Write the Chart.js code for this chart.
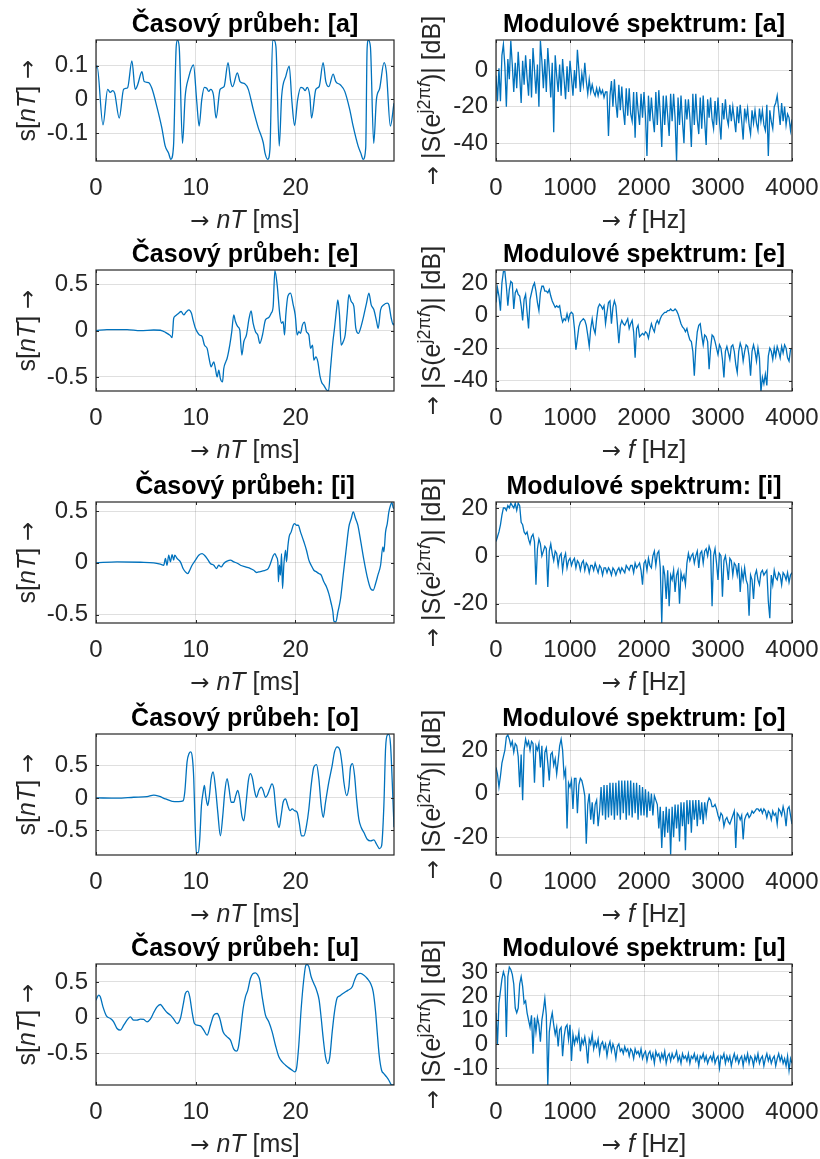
<!DOCTYPE html>
<html>
<head>
<meta charset="utf-8">
<script src="https://cdn.jsdelivr.net/npm/chart.js@4.4.1/dist/chart.umd.min.js"></script>
<style>
  body { margin: 0; background: #fff; overflow: hidden; }
  #fig { position: relative; width: 820px; height: 1159px; }
  #fig canvas { position: absolute; }
</style>
</head>
<body>
<div id="fig"></div>
<script>
const FONT = '"Liberation Sans", Arial, Helvetica, sans-serif';
const ARROW_FONT = '"DejaVu Sans", sans-serif';
const INK = '#262626';
const LINE = '#0072bd';
const GRID = 'rgba(38,38,38,0.15)';

const msTicks = [0, 10, 20];
const hzTicks = [0, 1000, 2000, 3000, 4000];
const msMax = 29.875;
const hzMax = 4000;

// time waveforms: [t in ms, s[nT]]
const waveA = [[0,0.092],[0.1,0.1],[0.7,-0.075],[1.17,0.03],[1.43,0.021],[1.67,0.026],[1.87,0.019],[2.33,-0.055],[2.77,0.03],[3.17,0.035],[3.6,0.114],[3.93,0.03],[4.17,0.043],[4.6,0.082],[4.83,0.053],[5.27,0.05],[5.6,0.033],[6.1,-0.021],[6.6,-0.084],[6.94,-0.138],[7.27,-0.158],[7.5,-0.177],[7.77,-0.138],[8.04,0.156],[8.17,0.175],[8.34,0.156],[8.67,-0.13],[8.94,0.009],[9.27,0.063],[9.77,0.102],[10.1,-0.006],[10.34,-0.079],[10.6,-0.001],[10.87,0.036],[11.1,0.033],[11.3,0.024],[11.5,0.03],[11.77,0.014],[12.04,-0.055],[12.44,0.03],[12.84,0.038],[13.24,0.109],[13.5,0.053],[13.7,0.038],[14.17,0.079],[14.44,0.053],[14.94,0.046],[15.27,0.03],[15.77,-0.03],[16.27,-0.084],[16.77,-0.128],[16.94,-0.158],[17.21,-0.177],[17.44,-0.146],[17.71,0.175],[17.84,0.175],[18.04,0.156],[18.37,-0.138],[18.61,0.009],[19.04,0.07],[19.37,0.099],[19.64,-0.006],[19.91,-0.077],[20.21,-0.001],[20.54,0.036],[20.77,0.033],[20.97,0.026],[21.17,0.036],[21.44,0.009],[21.61,-0.055],[22.04,0.03],[22.37,0.038],[22.77,0.109],[23.04,0.053],[23.34,0.038],[23.77,0.075],[24.04,0.053],[24.51,0.043],[24.94,0.024],[25.44,-0.03],[25.78,-0.079],[26.28,-0.138],[26.54,-0.158],[26.78,-0.177],[27.04,-0.143],[27.18,0.151],[27.31,0.175],[27.51,0.156],[27.84,-0.13],[28.11,-0.001],[28.44,0.033],[28.88,0.109],[29.11,0.082],[29.51,-0.079],[29.875,-0.011]];

const waveE = [[0,0],[1.1,0.011],[3.11,0.011],[4.45,0],[5.79,0.007],[6.45,0.004],[6.96,-0.018],[7.46,-0.054],[7.63,-0.076],[7.79,0.134],[7.96,0.159],[8.29,0.188],[8.53,0.207],[8.8,0.17],[9,0.196],[9.3,0.225],[9.57,0.188],[9.73,0.116],[9.97,0.025],[10.13,-0.011],[10.37,-0.047],[10.64,-0.065],[10.87,-0.156],[11.14,-0.192],[11.34,-0.301],[11.54,-0.391],[11.81,-0.337],[11.97,-0.409],[12.14,-0.5],[12.31,-0.428],[12.47,-0.518],[12.68,-0.554],[12.81,-0.409],[13.01,-0.337],[13.14,-0.301],[13.41,-0.156],[13.61,-0.011],[13.81,0.17],[13.98,0.098],[14.21,0.043],[14.41,0.007],[14.62,-0.264],[14.82,-0.12],[15.08,-0.047],[15.35,0.134],[15.55,0.214],[15.75,0.08],[15.99,-0.011],[16.22,-0.047],[16.42,-0.138],[16.69,-0.047],[16.99,0.116],[17.32,0.141],[17.56,0.188],[17.76,0.261],[17.93,0.649],[18.16,0.496],[18.43,0.17],[18.6,0.08],[18.76,0.098],[18.9,-0.047],[19.03,0.17],[19.23,0.37],[19.5,0.406],[19.77,0.279],[19.97,0.17],[20.17,-0.047],[20.33,-0.011],[20.5,-0.029],[20.7,0.062],[20.9,0.091],[21.1,-0.011],[21.34,-0.047],[21.51,-0.192],[21.71,-0.156],[21.84,-0.319],[22.04,-0.283],[22.24,-0.337],[22.44,-0.482],[22.61,-0.554],[22.84,-0.591],[23.11,-0.64],[23.31,-0.65],[23.51,-0.409],[23.75,-0.12],[23.91,0.025],[24.11,0.225],[24.25,0.333],[24.41,0.17],[24.58,-0.156],[24.78,-0.12],[24.98,-0.047],[25.18,0.188],[25.35,0.388],[25.59,0.315],[25.85,0.261],[26.05,0.025],[26.32,-0.029],[26.52,0.025],[26.86,0.17],[27.12,0.297],[27.36,0.406],[27.59,0.279],[27.86,0.225],[28.13,0.098],[28.29,0.025],[28.53,0.225],[28.86,0.279],[29.2,0.297],[29.36,0.279],[29.6,0.134],[29.8,0.062],[29.875,0.08]];

const waveI = [[0,0],[2.11,0.01],[4.45,0.006],[5.79,0],[6.45,-0.013],[6.79,-0.023],[6.96,0.042],[7.12,-0.023],[7.29,0.074],[7.46,0.01],[7.63,0.08],[7.79,0.026],[7.89,0.074],[8.13,0.042],[8.46,0.01],[8.73,-0.055],[8.96,-0.087],[9.2,-0.103],[9.4,-0.071],[9.63,-0.023],[9.97,0.026],[10.3,0.074],[10.64,0.09],[10.87,0.074],[11.14,0.042],[11.47,-0.006],[11.81,-0.023],[12.07,-0.055],[12.31,-0.023],[12.54,-0.039],[12.81,-0.006],[13.14,0.016],[13.48,0.026],[13.81,0.01],[14.21,-0.006],[14.48,-0.023],[14.98,-0.039],[15.49,-0.055],[15.82,-0.071],[16.09,-0.093],[16.32,-0.087],[16.66,-0.08],[16.99,-0.071],[17.26,-0.055],[17.49,-0.006],[17.76,0.068],[17.93,0.09],[18.09,0.058],[18.23,0.01],[18.29,-0.183],[18.39,-0.023],[18.49,-0.119],[18.6,0.09],[18.7,-0.248],[18.83,-0.023],[19,0.122],[19.1,0.01],[19.23,0.154],[19.36,0.251],[19.57,0.299],[19.77,0.363],[19.9,0.379],[20.1,0.363],[20.27,0.363],[20.5,0.299],[20.84,0.203],[21.1,0.122],[21.34,0.026],[21.57,-0.023],[21.84,-0.071],[22.11,-0.087],[22.34,-0.103],[22.58,-0.119],[22.84,-0.183],[23.11,-0.232],[23.34,-0.296],[23.58,-0.392],[23.75,-0.473],[23.85,-0.563],[24.05,-0.569],[24.25,-0.473],[24.52,-0.344],[24.78,-0.119],[25.05,0.106],[25.35,0.347],[25.59,0.428],[25.79,0.492],[26.02,0.428],[26.25,0.363],[26.52,0.219],[26.86,0.026],[27.19,-0.135],[27.53,-0.248],[27.79,-0.264],[28.03,-0.199],[28.26,-0.119],[28.53,-0.023],[28.76,0.154],[28.86,0.106],[29.03,0.299],[29.2,0.379],[29.36,0.492],[29.53,0.556],[29.66,0.582],[29.8,0.531],[29.875,0.524]];

const waveO = [[0,0],[2.11,-0.005],[3.78,0.01],[5.12,0.021],[5.79,0.041],[6.29,0.026],[6.96,-0.015],[7.63,-0.052],[8.29,-0.057],[8.73,-0.046],[8.9,0.088],[9.13,0.552],[9.33,0.68],[9.5,0.706],[9.67,0.603],[9.8,0.294],[9.93,-0.376],[10.07,-0.84],[10.27,-0.84],[10.4,-0.634],[10.57,-0.119],[10.74,0.088],[10.87,0.191],[11,0.036],[11.2,-0.119],[11.37,0.036],[11.54,0.294],[11.74,0.397],[11.97,0.165],[12.21,-0.222],[12.47,-0.582],[12.71,-0.273],[12.91,0.088],[13.14,0.294],[13.34,0.139],[13.55,-0.067],[13.81,-0.067],[14.01,0.036],[14.21,0.113],[14.41,-0.015],[14.62,-0.273],[14.82,-0.351],[15.05,-0.067],[15.28,0.268],[15.48,0.371],[15.69,0.294],[15.89,0.113],[16.09,0.01],[16.32,0.113],[16.56,0.165],[16.76,0.113],[16.99,0.01],[17.16,0.036],[17.42,0.139],[17.63,0.216],[17.83,0.139],[17.99,-0.119],[18.16,-0.351],[18.36,-0.454],[18.56,-0.273],[18.76,-0.067],[19,-0.015],[19.23,-0.119],[19.43,-0.196],[19.67,-0.17],[19.9,-0.196],[20.17,-0.222],[20.37,-0.376],[20.6,-0.582],[20.84,-0.582],[21.1,-0.428],[21.34,-0.17],[21.57,0.191],[21.84,0.474],[22.11,0.51],[22.34,0.294],[22.58,-0.119],[22.78,-0.299],[23.01,-0.067],[23.34,0.242],[23.68,0.5],[23.91,0.706],[24.18,0.784],[24.45,0.732],[24.68,0.5],[24.85,0.242],[25.12,0.036],[25.35,0.165],[25.52,0.474],[25.72,0.526],[25.92,0.345],[26.12,-0.015],[26.35,-0.325],[26.59,-0.454],[26.86,-0.531],[27.19,-0.634],[27.53,-0.66],[27.86,-0.644],[28.13,-0.711],[28.43,-0.778],[28.63,-0.737],[28.86,-0.119],[29.03,0.758],[29.2,0.964],[29.36,0.974],[29.53,0.809],[29.7,0.242],[29.875,-0.45]];

const waveU = [[0,0.244],[0.27,0.315],[0.43,0.291],[0.7,0.15],[1.04,0.023],[1.44,-0.014],[1.77,-0.061],[2.11,-0.155],[2.44,-0.178],[2.78,-0.108],[3.11,-0.038],[3.44,0.009],[3.78,-0.038],[4.11,-0.038],[4.45,-0.023],[4.78,-0.028],[5.12,-0.061],[5.45,-0.023],[5.79,0.07],[6.12,0.15],[6.45,0.183],[6.79,0.127],[7.12,0.07],[7.46,0.033],[7.79,-0.023],[8.13,-0.085],[8.46,-0.014],[8.73,0.174],[8.96,0.338],[9.2,0.371],[9.4,0.291],[9.63,0.08],[9.87,-0.085],[10.13,-0.108],[10.47,-0.117],[10.8,-0.178],[11.14,-0.249],[11.47,-0.108],[11.81,0.033],[12.14,0.056],[12.41,-0.014],[12.74,-0.202],[13.14,-0.272],[13.48,-0.319],[13.81,-0.446],[14.08,-0.474],[14.28,-0.413],[14.48,-0.202],[14.75,0.127],[14.98,0.291],[15.22,0.385],[15.48,0.549],[15.75,0.62],[15.99,0.629],[16.22,0.596],[16.42,0.526],[16.66,0.291],[16.99,0.033],[17.32,-0.061],[17.66,-0.202],[17.99,-0.39],[18.33,-0.554],[18.66,-0.624],[19,-0.671],[19.33,-0.709],[19.67,-0.742],[19.9,-0.765],[20.1,-0.718],[20.33,-0.39],[20.57,0.127],[20.84,0.549],[21.04,0.737],[21.17,0.746],[21.34,0.714],[21.57,0.573],[21.84,0.479],[22.11,0.385],[22.37,0.244],[22.58,-0.014],[22.78,-0.296],[23.01,-0.554],[23.24,-0.648],[23.44,-0.554],[23.68,-0.202],[23.91,0.08],[24.18,0.277],[24.45,0.305],[24.72,0.333],[25.02,0.362],[25.28,0.385],[25.69,0.432],[25.92,0.526],[26.19,0.606],[26.52,0.62],[26.86,0.596],[27.19,0.549],[27.53,0.479],[27.79,0.362],[28.03,0.08],[28.19,-0.202],[28.39,-0.531],[28.63,-0.742],[28.86,-0.789],[29.13,-0.836],[29.36,-0.883],[29.6,-0.944],[29.875,-0.95]];

// magnitude spectra in dB, 0..4000 Hz in 20 Hz steps
const specA = [
  -3,-17,1,-17,8, 14,2,-20,6,-5, 16,3,-12,4,-10, 10,-3,-18,5,-8, 8,-4,-14,6,-15,
  12,0,-13,3,-20, 16,5,-10,6,-12, 12,0,-15,4,-34, 8,-3,-12,3,-14, 6,-5,-16,2,-12,
  5,-4,-14,0,-10, 11,0,-12,-2,-8, 4,-6,-13,-5,-12, -8,-12,-14,-10,-14, -10,-13,-11,-15,-12,
  -12,-36,-14,-6,-20, -5,-18,-26,-8,-22, -9,-22,-30,-10,-25, -10,-24,-28,-12,-37, -12,-22,-30,-13,-26,
  -12,-25,-47,-14,-28, -15,-26,-34,-12,-30, -11,-24,-42,-14,-30, -14,-25,-36,-13,-28, -13,-26,-50,-15,-30,
  -14,-28,-40,-16,-27, -16,-26,-42,-13,-30, -13,-27,-35,-15,-32, -14,-28,-41,-16,-26, -15,-27,-32,-17,-30,
  -15,-28,-38,-18,-27, -16,-26,-30,-19,-28, -20,-27,-34,-20,-29, -19,-28,-38,-21,-27, -21,-30,-35,-22,-29,
  -22,-29,-33,-21,-28, -22,-30,-33,-19,-47, -22,-28,-32,-20,-18, -14,-22,-30,-18,-28, -20,-30,-24,-26,-33,
  -27
];
const specE = [
  8,17,12,3,20,27,27,18,6,16,21,20,4,14,16,13,12,6,-3,10,
  13,2,-8,10,14,18,20,15,8,3,14,18,18,15,15,14,16,12,9,7,
  5,6,5,6,0,-4,-2,-3,1,-3,1,2,1,-8,-21,-14,-7,-4,-3,-2,
  -3,-6,-12,-19,-8,-2,-8,-11,-2,5,7,6,4,6,-5,2,8,9,-5,5,
  9,6,-5,-17,-6,-3,-5,-6,-4,-2,-8,-5,-3,-10,-26,-8,-6,-13,-12,-11,
  -12,-10,-11,-14,-9,-5,-8,-10,-5,-3,-5,-2,0,1,2,2,3,3,4,3,
  3,4,3,1,-2,-5,-7,-8,-10,-8,-12,-15,-16,-22,-37,-20,-10,-6,-5,-12,
  -18,-12,-13,-16,-33,-20,-12,-13,-16,-20,-24,-18,-20,-27,-38,-22,-19,-23,-27,-19,
  -18,-22,-30,-35,-22,-17,-20,-28,-22,-18,-19,-25,-37,-22,-18,-22,-28,-20,-26,-47,
  -38,-42,-36,-43,-25,-20,-22,-27,-20,-25,-19,-22,-26,-19,-23,-18,-20,-26,-28,-21,
  -20
];
const specI = [
  6,8,10,13,17,20,20,19,21,20,22,21,20,22,19,22,21,14,13,10,
  9,10,7,5,8,9,6,-12,3,7,5,0,2,4,3,-13,2,5,1,-2,
  2,1,-4,0,1,-6,-1,1,-5,-2,-1,-4,-2,-1,-5,-2,-3,-6,-3,-2,
  -6,-3,-4,-7,-4,-4,-6,-3,-5,-7,-4,-5,-8,-5,-5,-7,-5,-6,-8,-5,
  -6,-8,-6,-5,-7,-5,-6,-7,-4,-5,-6,-4,-4,-7,-3,-5,-4,-3,-6,-12,
  -3,-2,-6,-1,-4,-5,0,2,-4,1,2,-5,-28,-4,-8,-18,-6,-21,-8,-10,
  -6,-15,-8,-6,-20,-7,-10,-8,-12,-3,1,-2,0,1,-3,0,2,-5,1,2,
  -3,2,3,0,4,2,-21,0,3,-3,-10,1,0,-17,-2,0,-4,-10,-1,-2,
  -8,-3,-4,-8,-3,-15,-6,-10,-5,-10,-12,-25,-8,-10,-18,-8,-6,-10,-12,-7,
  -6,-8,-7,-6,-19,-26,-8,-12,-6,-9,-10,-7,-8,-12,-7,-8,-10,-7,-11,-8,
  -7
];
const specO = [
  12,9,3,8,14,17,20,26,27,25,22,24,19,23,22,17,3,18,-3,20,
  25,22,24,20,24,23,5,22,20,23,12,22,3,19,21,14,6,18,19,13,
  16,9,15,22,25,20,8,11,-16,5,3,6,-7,7,7,-9,4,7,6,3,
  -1,-23,-5,0,-12,-4,-14,-5,-3,-15,-8,3,-10,4,-12,4,-11,5,-10,5,
  -12,5,-10,6,-12,6,-9,6,-12,6,-10,6,-11,5,-9,5,-12,4,-10,3,
  -10,2,-11,1,-8,0,-10,-1,-3,-5,-16,-6,-25,-8,-20,-6,-18,-7,-28,-6,
  -20,-5,-16,-5,-22,-4,-15,-4,-26,-3,-14,-3,-18,-3,-12,-3,-15,-3,-12,-4,
  -14,-4,-10,-4,-2,-3,-6,-6,-5,-7,-10,-12,-9,-10,-15,-12,-11,-13,-14,-12,
  -10,-8,-25,-9,-10,-12,-10,-21,-12,-10,-9,-11,-10,-8,-9,-8,-7,-7,-8,-7,
  -9,-7,-8,-11,-8,-9,-12,-8,-10,-9,-14,-7,-8,-10,-6,-9,-15,-7,-6,-10,
  -14
];
const specU = [
  13,0,17,22,27,30,28,3,28,32,31,29,25,15,13,15,25,28,24,17,
  18,13,10,7,12,-4,11,5,11,8,1,10,14,19,12,-17,5,10,13,8,
  4,7,-1,6,7,-5,3,7,8,2,8,-7,4,0,3,1,5,-3,2,0,
  3,-1,-8,2,0,4,-2,1,-1,2,-4,0,1,-2,0,-5,-1,1,-3,0,
  -2,-6,-1,0,-3,-2,-4,-1,-3,-2,-5,-2,-3,-6,-2,-4,-3,-5,-2,-6,
  -4,-3,-7,-4,-3,-6,-4,-8,-3,-5,-4,-7,-4,-6,-3,-8,-5,-4,-7,-4,
  -6,-5,-3,-7,-5,-8,-4,-6,-5,-7,-4,-8,-5,-6,-4,-7,-5,-9,-5,-6,
  -4,-7,-5,-8,-6,-5,-7,-4,-8,-6,-5,-10,-5,-6,-4,-8,-5,-7,-5,-9,
  -6,-4,-7,-5,-8,-6,-5,-9,-5,-7,-4,-8,-5,-6,-9,-5,-7,-4,-8,-6,
  -5,-9,-6,-4,-7,-5,-8,-6,-5,-9,-6,-4,-7,-5,-8,-6,-9,-5,-11,-6,
  -8
];

const vowels = ['a', 'e', 'i', 'o', 'u'];
const waves = [waveA, waveE, waveI, waveO, waveU];
const spectra = [specA, specE, specI, specO, specU];
const waveLimits = [[-0.182, 0.176], [-0.652, 0.655], [-0.58, 0.587], [-0.876, 0.98], [-0.95, 0.753]];
const waveTicks = [[-0.1, 0, 0.1], [-0.5, 0, 0.5], [-0.5, 0, 0.5], [-0.5, 0, 0.5], [-0.5, 0, 0.5]];
const specLimits = [[-49.7, 16.4], [-46.4, 28], [-28, 22.5], [-28.2, 27.4], [-17, 33.3]];
const specTicks = [[-40, -20, 0], [-40, -20, 0, 20], [-20, 0, 20], [-20, 0, 20], [-10, 0, 10, 20, 30]];
const rowTop = [40, 270, 502, 734, 964];

// axis label pieces: t = text, it = italic, sup = superscript, arrow = drawn in the symbol font
const msLabel = [{ t: '\u2192', arrow: true }, { t: ' ' }, { t: 'nT', it: true }, { t: ' [ms]' }];
const hzLabel = [{ t: '\u2192', arrow: true }, { t: ' ' }, { t: 'f', it: true }, { t: ' [Hz]' }];
const sLabel = [{ t: 's[' }, { t: 'nT', it: true }, { t: '] ' }, { t: '\u2192', arrow: true }];
const dbLabel = [{ t: '\u2192', arrow: true }, { t: ' |S(e' }, { t: 'j2\u03c0', sup: true }, { t: 'f', sup: true, it: true }, { t: ')| [dB]' }];

const TICK_SIZE = 24;
const LABEL_SIZE = 25;

function drawRich(ctx, parts, size, x, y, vertical) {
  ctx.save();
  ctx.translate(x, y);
  if (vertical) ctx.rotate(-Math.PI / 2);
  ctx.textAlign = 'left';
  ctx.textBaseline = 'alphabetic';
  ctx.fillStyle = INK;
  let total = 0;
  const runs = parts.map(p => {
    const fs = p.sup ? Math.round(size * 0.7) : p.arrow ? Math.round(size * 0.9) : size;
    const font = (p.it ? 'italic ' : '') + fs + 'px ' + (p.arrow ? ARROW_FONT : FONT);
    ctx.font = font;
    const w = ctx.measureText(p.t).width;
    total += w;
    return { text: p.t, font, w, dy: p.sup ? -size * 0.42 : 0 };
  });
  let cx = -total / 2;
  runs.forEach(r => {
    ctx.font = r.font;
    ctx.fillText(r.text, cx, r.dy);
    cx += r.w;
  });
  ctx.restore();
}

const panelDecor = {
  id: 'panelDecor',
  afterDraw(chart, args, o) {
    const { ctx, chartArea: a, scales } = chart;
    ctx.save();
    ctx.strokeStyle = INK;
    ctx.lineWidth = 1;
    ctx.beginPath();
    scales.x.ticks.forEach(t => {
      const px = Math.round(scales.x.getPixelForValue(t.value)) + 0.5;
      ctx.moveTo(px, a.bottom); ctx.lineTo(px, a.bottom - 3);
      ctx.moveTo(px, a.top); ctx.lineTo(px, a.top + 3);
    });
    scales.y.ticks.forEach(t => {
      const py = Math.round(scales.y.getPixelForValue(t.value)) + 0.5;
      ctx.moveTo(a.left, py); ctx.lineTo(a.left + 3, py);
      ctx.moveTo(a.right, py); ctx.lineTo(a.right - 3, py);
    });
    ctx.stroke();
    ctx.lineWidth = 1.2;
    ctx.strokeRect(a.left, a.top, a.right - a.left, a.bottom - a.top);

    ctx.fillStyle = '#000';
    ctx.font = 'bold 25px ' + FONT;
    ctx.textAlign = 'center';
    ctx.textBaseline = 'alphabetic';
    ctx.fillText(o.title, (a.left + a.right) / 2, a.top - 8);
    drawRich(ctx, o.xLabel, LABEL_SIZE, (a.left + a.right) / 2, a.bottom + 67, false);
    drawRich(ctx, o.yLabel, LABEL_SIZE, o.yLabelX, (a.top + a.bottom) / 2, true);
    ctx.restore();
  }
};

function tickFont() {
  return { family: FONT, size: TICK_SIZE };
}

function makePanel(p) {
  const canvas = document.createElement('canvas');
  canvas.width = 410;
  canvas.height = 240;
  canvas.style.left = p.col * 410 + 'px';
  canvas.style.top = (p.top - 40) + 'px';
  document.getElementById('fig').appendChild(canvas);

  new Chart(canvas, {
    type: 'line',
    data: {
      datasets: [{
        data: p.points,
        borderColor: LINE,
        borderWidth: 1.3,
        pointRadius: 0,
        fill: false,
        tension: 0,
        cubicInterpolationMode: p.smooth ? 'monotone' : 'default'
      }]
    },
    options: {
      responsive: false,
      animation: false,
      devicePixelRatio: 1,
      layout: { padding: { top: 40, right: p.padRight, bottom: 0, left: 0 } },
      plugins: {
        legend: { display: false },
        tooltip: { enabled: false },
        panelDecor: { title: p.title, xLabel: p.xLabel, yLabel: p.yLabel, yLabelX: p.yLabelX }
      },
      scales: {
        x: {
          type: 'linear',
          min: 0,
          max: p.xMax,
          bounds: 'data',
          afterBuildTicks: s => { s.ticks = p.xTicks.map(v => ({ value: v })); },
          afterFit: s => { s.height = 79; s.paddingLeft = 0; s.paddingRight = 0; },
          grid: { color: GRID, drawTicks: false },
          border: { display: false },
          ticks: { font: tickFont(), color: INK, padding: 13, maxRotation: 0, autoSkip: false, callback: v => String(v) }
        },
        y: {
          type: 'linear',
          min: p.yMin,
          max: p.yMax,
          bounds: 'data',
          afterBuildTicks: s => { s.ticks = p.yTicks.map(v => ({ value: v })); },
          afterFit: s => { s.width = p.plotLeft; s.paddingTop = 0; s.paddingBottom = 0; },
          grid: { color: GRID, drawTicks: false },
          border: { display: false },
          ticks: { font: tickFont(), color: INK, padding: 8, autoSkip: false, callback: v => String(v) }
        }
      }
    },
    plugins: [panelDecor]
  });
}

vowels.forEach((v, r) => {
  makePanel({
    col: 0,
    top: rowTop[r],
    plotLeft: 96,
    padRight: 16,
    points: waves[r].map(([t, s]) => ({ x: t, y: s })),
    smooth: true,
    xMax: msMax,
    xTicks: msTicks,
    yMin: waveLimits[r][0],
    yMax: waveLimits[r][1],
    yTicks: waveTicks[r],
    title: '\u010casov\u00fd pr\u016fbeh: [' + v + ']',
    xLabel: msLabel,
    yLabel: sLabel,
    yLabelX: 35
  });
  const spec = spectra[r];
  makePanel({
    col: 1,
    top: rowTop[r],
    plotLeft: 86,
    padRight: 28,
    points: spec.map((db, i) => ({ x: i * hzMax / (spec.length - 1), y: db })),
    smooth: false,
    xMax: hzMax,
    xTicks: hzTicks,
    yMin: specLimits[r][0],
    yMax: specLimits[r][1],
    yTicks: specTicks[r],
    title: 'Modulov\u00e9 spektrum: [' + v + ']',
    xLabel: hzLabel,
    yLabel: dbLabel,
    yLabelX: 30
  });
});
</script>
</body>
</html>
